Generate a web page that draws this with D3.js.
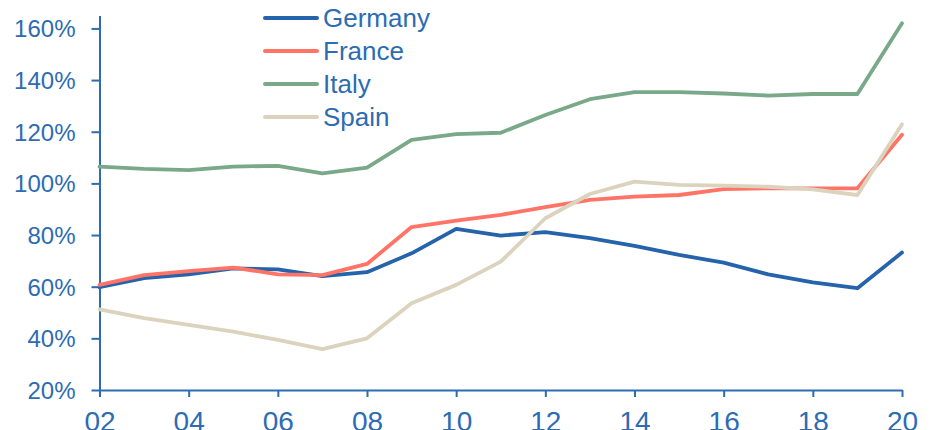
<!DOCTYPE html>
<html>
<head>
<meta charset="utf-8">
<script src="https://cdn.jsdelivr.net/npm/d3@7"></script>
<style>
  body { margin: 0; background: #fff; }
  svg text { font-family: "Liberation Sans", Arial, sans-serif; fill: #2c6cb3; }
</style>
</head>
<body>
<svg id="chart" width="933" height="430"></svg>
<script>
// debt to GDP, % (2002 - 2020)
const years = d3.range(2002, 2021)
const germany = [59.8, 63.3, 64.8, 67.1, 66.7, 64.1, 65.6, 72.9, 82.4, 79.8, 81.1, 78.8, 75.8, 72.3, 69.3, 64.8, 61.7, 59.4, 73.2]
const france = [60.7, 64.5, 66.0, 67.4, 64.8, 64.5, 68.8, 83.1, 85.6, 87.8, 90.8, 93.6, 94.9, 95.5, 97.8, 98.1, 98.1, 98.1, 118.8]
const italy = [106.5, 105.6, 105.1, 106.5, 106.8, 103.9, 106.1, 116.8, 119.1, 119.6, 126.5, 132.6, 135.3, 135.3, 134.8, 134.0, 134.6, 134.6, 162.0]
const spain = [51.2, 47.8, 45.2, 42.6, 39.4, 35.8, 40.0, 53.6, 60.7, 69.7, 86.5, 95.9, 100.7, 99.4, 99.1, 98.7, 97.7, 95.5, 122.9]
const yTicks = [20, 40, 60, 80, 100, 120, 140, 160]
const xTicks = [2002, 2004, 2006, 2008, 2010, 2012, 2014, 2016, 2018, 2020]

const series = [
    {name: 'Germany', values: germany, color: '#2563ab'},
    {name: 'France', values: france, color: '#ff7467'},
    {name: 'Italy', values: italy, color: '#79a988'},
    {name: 'Spain', values: spain, color: '#dcd3be'}
]

const axisColor = '#2c6cb3'
svg = d3.select('#chart')

x = d3.scaleLinear().domain([2002, 2020]).range([99.5, 902])
y = d3.scaleLinear().domain([20, 165]).range([390, 15.5])

let yAxis = svg.append('g')
    .attr('transform', 'translate(99.5,0)')
    .call(d3.axisLeft(y).tickValues(yTicks).tickSize(8).tickSizeOuter(0).tickPadding(16)
        .tickFormat(d => d + '%'))
yAxis.selectAll('text').style('font-size', '24px').attr('dy', '0.35em')

let xAxis = svg.append('g')
    .attr('transform', 'translate(0,390)')
    .call(d3.axisBottom(x).tickValues(xTicks).tickSize(7).tickSizeOuter(0).tickPadding(14)
        .tickFormat(d => String(d % 100).padStart(2, '0')))
xAxis.selectAll('text').style('font-size', '28px').attr('dy', '0.71em')

svg.selectAll('.domain, .tick line')
    .attr('stroke', axisColor)
    .attr('stroke-width', 2)

const line = d3.line()
    .x((d, i) => x(years[i]))
    .y(d => y(d))

svg.selectAll('path.country')
    .data(series)
    .join('path')
    .attr('class', 'country')
    .attr('d', d => line(d.values))
    .attr('fill', 'none')
    .attr('stroke', d => d.color)
    .attr('stroke-width', 3.8)
    .attr('stroke-linejoin', 'round')
    .attr('stroke-linecap', 'round')

// legend
let legend = svg.append('g')
    .selectAll('g')
    .data(series)
    .join('g')
    .attr('transform', (d, i) => 'translate(265,' + (18 + i * 33) + ')')
legend.append('line')
    .attr('x1', 0).attr('x2', 52)
    .attr('stroke', d => d.color)
    .attr('stroke-width', 4)
    .attr('stroke-linecap', 'round')
legend.append('text')
    .attr('x', 58)
    .attr('dy', '0.35em')
    .style('font-size', '26px')
    .text(d => d.name)
</script>
</body>
</html>
